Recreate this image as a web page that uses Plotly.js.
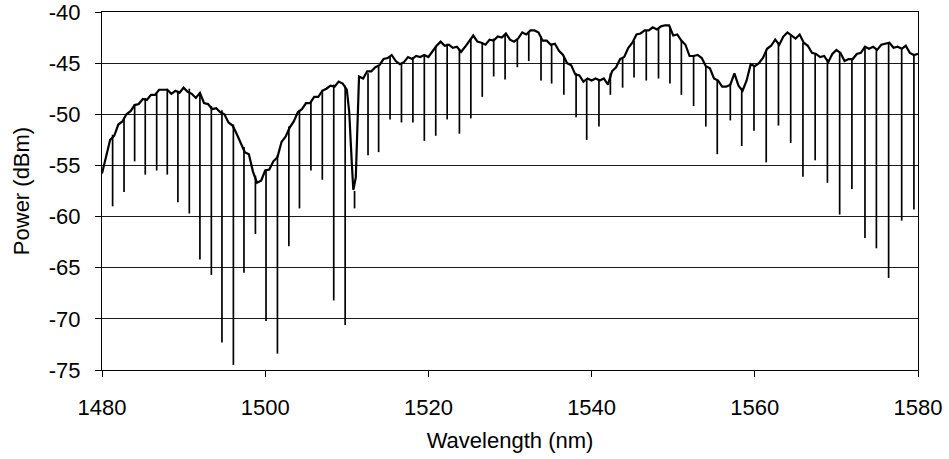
<!DOCTYPE html>
<html>
<head>
<meta charset="utf-8">
<script src="https://cdn.plot.ly/plotly-3.0.1.min.js"></script>
<style>html,body{margin:0;padding:0;background:#fff;}#chart{width:949px;height:459px;}</style>
</head>
<body>
<div id="chart"></div>
<script>
// Envelope of the spectrum (wavelength in nm, power in dBm)
const envWl = [1480.0,1480.5,1481.0,1481.5,1482.0,1482.5,1483.0,1483.5,1484.0,1484.5,1485.0,1485.5,1486.0,1486.5,1487.0,1487.5,1488.0,1488.5,1489.0,1489.5,
1490.0,1490.5,1491.0,1491.5,1492.0,1492.5,1493.0,1493.5,1494.0,1494.5,1495.0,1495.5,1496.0,1496.5,1497.0,1497.5,1498.0,1498.5,1499.0,1499.5,
1500.0,1500.5,1501.0,1501.5,1502.0,1502.5,1503.0,1503.5,1504.0,1504.5,1505.0,1505.5,1506.0,1506.5,1507.0,1507.5,1508.0,1508.5,1509.0,1509.5,
1510.0,1510.3,1510.6,1510.8,1511.1,1511.3,1511.5,1512.0,1512.5,1513.0,1513.5,1514.0,1514.5,1515.0,1515.5,1516.0,1516.5,1517.0,1517.5,1518.0,1518.5,1519.0,1519.5,
1520.0,1520.5,1521.0,1521.5,1522.0,1522.5,1523.0,1523.5,1524.0,1524.5,1525.0,1525.5,1526.0,1526.5,1527.0,1527.5,1528.0,1528.5,1529.0,1529.5,
1530.0,1530.5,1531.0,1531.5,1532.0,1532.5,1533.0,1533.5,1534.0,1534.5,1535.0,1535.5,1536.0,1536.5,1537.0,1537.5,1538.0,1538.5,1539.0,1539.5,
1540.0,1540.5,1541.0,1541.5,1542.0,1542.5,1543.0,1543.5,1544.0,1544.5,1545.0,1545.5,1546.0,1546.5,1547.0,1547.5,1548.0,1548.5,1549.0,1549.5,
1550.0,1550.5,1551.0,1551.5,1552.0,1552.5,1553.0,1553.5,1554.0,1554.5,1555.0,1555.5,1556.0,1556.5,1557.0,1557.5,1558.0,1558.5,1559.0,1559.5,
1560.0,1560.5,1561.0,1561.5,1562.0,1562.5,1563.0,1563.5,1564.0,1564.5,1565.0,1565.5,1566.0,1566.5,1567.0,1567.5,1568.0,1568.5,1569.0,1569.5,
1570.0,1570.5,1571.0,1571.5,1572.0,1572.5,1573.0,1573.5,1574.0,1574.5,1575.0,1575.5,1576.0,1576.5,1577.0,1577.5,1578.0,1578.5,1579.0,1579.5,1580.0];
const envPower = [-55.8,-54.0,-52.5,-52.1,-51.0,-50.7,-50.0,-49.7,-49.1,-49.0,-48.5,-48.6,-48.1,-48.1,-47.6,-47.6,-47.6,-48.0,-47.7,-47.9,
-47.4,-47.8,-48.0,-48.4,-47.9,-48.9,-49.0,-49.5,-49.4,-49.8,-50.0,-50.8,-51.1,-51.9,-52.8,-53.7,-53.9,-55.6,-56.7,-56.5,
-55.5,-55.4,-54.6,-54.2,-52.7,-52.2,-51.3,-50.7,-49.8,-49.5,-48.9,-48.9,-48.3,-48.3,-47.7,-47.5,-47.2,-47.3,-46.8,-47.0,
-47.6,-49.8,-54.6,-57.4,-56.2,-50.5,-46.3,-46.5,-45.8,-45.8,-45.4,-45.2,-44.6,-44.5,-44.2,-44.8,-45.1,-44.9,-44.4,-44.6,-44.3,-44.4,-44.2,
-44.4,-43.8,-43.3,-42.9,-43.3,-43.2,-43.5,-43.4,-43.9,-43.4,-42.8,-42.3,-42.9,-43.0,-43.2,-42.7,-42.8,-42.4,-42.5,-42.1,
-42.7,-42.9,-42.6,-42.0,-42.2,-41.8,-41.8,-42.0,-42.8,-42.8,-43.2,-43.1,-43.8,-44.2,-45.0,-45.2,-46.1,-46.2,-46.8,-46.5,
-46.7,-46.5,-46.7,-46.5,-47.1,-45.8,-45.4,-44.6,-44.4,-43.5,-43.0,-42.2,-42.1,-41.8,-41.8,-41.5,-41.7,-41.4,-41.3,-41.3,
-42.3,-42.2,-42.8,-43.2,-44.3,-44.3,-44.2,-44.5,-45.3,-45.5,-46.5,-46.7,-47.3,-47.3,-47.1,-46.0,-47.2,-47.7,-46.7,-45.1,
-45.3,-45.0,-44.5,-43.6,-43.3,-42.7,-43.2,-42.4,-42.0,-42.3,-42.6,-42.2,-43.0,-43.3,-44.0,-44.1,-44.4,-44.3,-44.9,-44.1,
-43.7,-44.0,-44.8,-44.6,-44.6,-44.1,-44.0,-43.4,-43.6,-43.4,-43.7,-43.2,-43.1,-43.0,-43.5,-43.4,-43.6,-43.3,-44.0,-44.2,-44.1];

// Narrow absorption dips: centre wavelength (nm), envelope level at the dip and bottom power (dBm)
const dipWl = [1481.3,1482.7,1484.0,1485.3,1486.7,1488.0,1489.3,1490.7,1492.0,1493.4,1494.7,1496.1,1497.4,1498.8,1500.1,1501.5,1502.9,1504.2,1505.6,1507.0,
1508.4,1509.8,1510.95,1512.6,1513.9,1515.3,1516.7,1518.1,1519.5,1520.9,1522.3,1523.8,1525.2,1526.6,1528.0,1529.4,1530.9,1532.3,1533.8,1535.1,
1536.6,1538.1,1539.4,1540.9,1542.3,1543.8,1545.2,1546.7,1548.2,1549.6,1551.0,1552.5,1554.0,1555.4,1557.0,1558.4,1559.9,1561.4,1562.9,1564.4,
1565.9,1567.4,1568.9,1570.4,1571.9,1573.5,1574.9,1576.4,1578.0,1579.5];
const dipTop = [-52.0,-50.3,-49.0,-48.4,-48.0,-47.5,-47.7,-47.5,-48.0,-49.2,-49.6,-51.0,-53.2,-56.0,-55.4,-54.0,-51.2,-49.6,-48.7,-47.6,
-47.1,-47.2,-57.5,-46.0,-45.3,-44.3,-45.0,-44.4,-44.3,-43.4,-43.1,-43.6,-42.6,-43.0,-42.6,-42.2,-42.7,-42.0,-42.4,-43.1,
-44.3,-46.0,-46.6,-46.6,-46.0,-44.4,-42.8,-41.8,-41.6,-41.5,-42.8,-44.3,-45.3,-46.7,-47.0,-47.5,-45.3,-43.8,-43.0,-42.3,
-43.0,-44.0,-44.6,-44.0,-44.5,-43.5,-43.6,-43.1,-43.5,-44.2];
const dipPower = [-59.0,-57.6,-54.6,-55.9,-55.5,-55.9,-58.6,-59.7,-64.2,-65.7,-72.3,-74.5,-65.5,-61.7,-70.2,-73.4,-62.9,-59.2,-55.5,-56.4,
-68.2,-70.6,-59.2,-54.0,-53.7,-50.5,-50.8,-50.8,-52.6,-52.1,-50.5,-51.9,-50.4,-48.3,-46.3,-46.6,-45.4,-44.8,-46.7,-47.0,
-48.1,-50.3,-52.5,-51.2,-48.1,-47.4,-46.4,-46.7,-46.5,-47.0,-48.1,-49.2,-51.2,-53.9,-50.6,-53.1,-51.6,-54.7,-51.1,-52.8,
-56.1,-54.5,-56.7,-59.8,-57.3,-62.1,-63.1,-66.0,-60.4,-59.3];

const xTicks = [1480,1500,1520,1540,1560,1580];
const yTicks = [-75,-70,-65,-60,-55,-50,-45,-40];

const envTrace = {
  x: envWl, y: envPower,
  type: 'scatter', mode: 'lines',
  line: {color: '#000', width: 2.2},
  hoverinfo: 'skip'
};

// each dip drawn as a drop from the envelope level to its bottom
const dx = [], dy = [];
dipWl.forEach((w,i)=>{ dx.push(w, w, null); dy.push(dipTop[i], dipPower[i], null); });
const dipTrace = {
  x: dx, y: dy,
  type: 'scatter', mode: 'lines',
  line: {color: '#000', width: 1.7},
  connectgaps: false,
  hoverinfo: 'skip'
};

const font = {family: '"Liberation Sans", Arial, sans-serif', size: 22, color: '#000'};
const layout = {
  width: 949, height: 459,
  margin: {l: 102, r: 31, t: 12, b: 89},
  paper_bgcolor: '#fff', plot_bgcolor: '#fff',
  font: font,
  showlegend: false,
  xaxis: {
    range: [1480, 1580], tickvals: xTicks, ticktext: xTicks.map(String),
    ticks: 'outside', ticklen: 6, tickcolor: '#000', tickwidth: 1,
    showline: true, linecolor: '#000', linewidth: 1, mirror: true,
    showgrid: false, zeroline: false,
    ticklabelstandoff: 12, ticklabeloverflow: 'allow',
    tickfont: font,
    title: {text: 'Wavelength (nm)', font: font, standoff: 13}
  },
  yaxis: {
    range: [-75, -40], tickvals: yTicks, ticktext: yTicks.map(String),
    ticks: 'outside', ticklen: 6, tickcolor: '#000', tickwidth: 1,
    showline: true, linecolor: '#000', linewidth: 1, mirror: true,
    showgrid: true, gridcolor: '#1a1a1a', gridwidth: 1, zeroline: false,
    ticklabelstandoff: 10, ticklabeloverflow: 'allow',
    tickfont: font,
    title: {text: 'Power (dBm)', font: font, standoff: 13}
  }
};

Plotly.newPlot('chart', [envTrace, dipTrace], layout, {staticPlot: true, displayModeBar: false});
</script>
</body>
</html>
